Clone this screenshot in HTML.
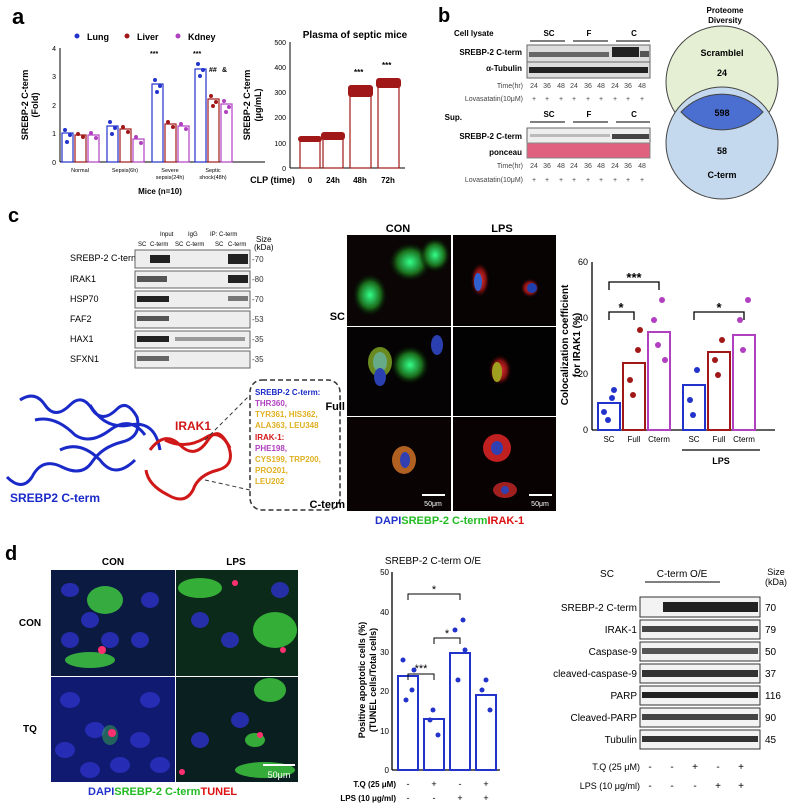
<!DOCTYPE html>
<html><head><meta charset="utf-8"><style>
body{margin:0;background:#fff}
svg{display:block;font-family:"Liberation Sans",sans-serif}
</style></head><body>
<svg width="800" height="803" viewBox="0 0 800 803" xmlns="http://www.w3.org/2000/svg">
<defs>
<radialGradient id="gcell"><stop offset="0" stop-color="#3f8"/><stop offset="0.6" stop-color="#1a6a1a"/><stop offset="1" stop-color="#000" stop-opacity="0"/></radialGradient>
<radialGradient id="rcell"><stop offset="0" stop-color="#e33"/><stop offset="0.6" stop-color="#801010"/><stop offset="1" stop-color="#000" stop-opacity="0"/></radialGradient>
</defs>
<!-- panel a -->
<text x="12" y="24" font-size="22" font-weight="bold">a</text>
<g font-size="9" font-weight="bold">
<circle cx="77" cy="36" r="2.5" fill="#2233cc"/><text x="87" y="40">Lung</text>
<circle cx="127" cy="36" r="2.5" fill="#a01818"/><text x="137" y="40">Liver</text>
<circle cx="178" cy="36" r="2.5" fill="#b040c0"/><text x="188" y="40">Kdney</text>
</g>
<line x1="60" y1="48" x2="60" y2="162" stroke="#000"/>
<line x1="60" y1="162" x2="265" y2="162" stroke="#000"/>
<g font-size="7" text-anchor="end"><text x="56" y="165">0</text><text x="56" y="136">1</text><text x="56" y="108">2</text><text x="56" y="79">3</text><text x="56" y="51">4</text></g>
<text x="28" y="105" font-size="9" font-weight="bold" transform="rotate(-90 28 105)" text-anchor="middle">SREBP-2 C-term</text>
<text x="38" y="105" font-size="9" font-weight="bold" transform="rotate(-90 38 105)" text-anchor="middle">(Fold)</text>
<g fill="none" stroke-width="1.2">
<rect x="62" y="133" width="11" height="29" stroke="#2233cc"/><rect x="75" y="135" width="11" height="27" stroke="#a01818"/><rect x="88" y="135" width="11" height="27" stroke="#b040c0"/>
<rect x="107" y="126" width="11" height="36" stroke="#2233cc"/><rect x="120" y="129" width="11" height="33" stroke="#a01818"/><rect x="133" y="139" width="11" height="23" stroke="#b040c0"/>
<rect x="152" y="84" width="11" height="78" stroke="#2233cc"/><rect x="165" y="124" width="11" height="38" stroke="#a01818"/><rect x="178" y="126" width="11" height="36" stroke="#b040c0"/>
<rect x="195" y="69" width="11" height="93" stroke="#2233cc"/><rect x="208" y="99" width="11" height="63" stroke="#a01818"/><rect x="221" y="104" width="11" height="58" stroke="#b040c0"/>
</g>
<g fill="#2233cc"><circle cx="65" cy="130" r="2"/><circle cx="70" cy="135" r="2"/><circle cx="67" cy="142" r="2"/><circle cx="110" cy="122" r="2"/><circle cx="115" cy="128" r="2"/><circle cx="112" cy="134" r="2"/><circle cx="155" cy="80" r="2"/><circle cx="160" cy="86" r="2"/><circle cx="157" cy="92" r="2"/><circle cx="198" cy="64" r="2"/><circle cx="203" cy="70" r="2"/><circle cx="200" cy="76" r="2"/></g>
<g fill="#a01818"><circle cx="78" cy="134" r="2"/><circle cx="83" cy="137" r="2"/><circle cx="123" cy="127" r="2"/><circle cx="128" cy="132" r="2"/><circle cx="168" cy="122" r="2"/><circle cx="173" cy="127" r="2"/><circle cx="211" cy="96" r="2"/><circle cx="216" cy="102" r="2"/><circle cx="213" cy="106" r="2"/></g>
<g fill="#b040c0"><circle cx="91" cy="133" r="2"/><circle cx="96" cy="138" r="2"/><circle cx="136" cy="137" r="2"/><circle cx="141" cy="143" r="2"/><circle cx="181" cy="124" r="2"/><circle cx="186" cy="129" r="2"/><circle cx="224" cy="101" r="2"/><circle cx="229" cy="107" r="2"/><circle cx="226" cy="112" r="2"/></g>
<g font-size="7" font-weight="bold"><text x="150" y="56">***</text><text x="193" y="56">***</text><text x="209" y="72">##</text><text x="222" y="72">&amp;</text></g>
<g font-size="5.5" text-anchor="middle"><text x="80" y="172">Normal</text><text x="125" y="172">Sepsis(6h)</text><text x="170" y="172">Severe</text><text x="170" y="179">sepsis(24h)</text><text x="213" y="172">Septic</text><text x="213" y="179">shock(48h)</text></g>
<text x="160" y="194" font-size="8" font-weight="bold" text-anchor="middle">Mice (n=10)</text>

<text x="355" y="38" font-size="10" font-weight="bold" text-anchor="middle">Plasma of septic mice</text>
<line x1="290" y1="42" x2="290" y2="168" stroke="#000"/>
<line x1="290" y1="168" x2="405" y2="168" stroke="#000"/>
<g font-size="7" text-anchor="end"><text x="286" y="171">0</text><text x="286" y="146">100</text><text x="286" y="120">200</text><text x="286" y="95">300</text><text x="286" y="70">400</text><text x="286" y="45">500</text></g>
<text x="250" y="105" font-size="9" font-weight="bold" transform="rotate(-90 250 105)" text-anchor="middle">SREBP-2 C-term</text>
<text x="261" y="105" font-size="9" font-weight="bold" transform="rotate(-90 261 105)" text-anchor="middle">(μg/mL)</text>
<g fill="none" stroke="#a01818" stroke-width="1.2">
<rect x="300" y="140" width="20" height="28"/><rect x="323" y="137" width="20" height="31"/><rect x="350" y="90" width="21" height="78"/><rect x="378" y="82" width="21" height="86"/></g>
<g fill="#a01818"><rect x="298" y="136" width="24" height="6" rx="3"/><rect x="321" y="132" width="24" height="8" rx="3"/><rect x="348" y="85" width="25" height="12" rx="3"/><rect x="376" y="78" width="25" height="10" rx="3"/></g>
<g font-size="8" font-weight="bold"><text x="354" y="75">***</text><text x="382" y="68">***</text></g>
<g font-size="8" font-weight="bold" text-anchor="middle"><text x="310" y="183">0</text><text x="333" y="183">24h</text><text x="360" y="183">48h</text><text x="388" y="183">72h</text></g>
<text x="295" y="183" font-size="9" font-weight="bold" text-anchor="end">CLP (time)</text>

<!-- panel b -->
<text x="438" y="22" font-size="20" font-weight="bold">b</text>
<g font-size="8" font-weight="bold" text-anchor="end">
<text x="522" y="55">SREBP-2 C-term</text><text x="522" y="71">α-Tubulin</text>
<text x="462" y="120">Sup.</text><text x="522" y="139">SREBP-2 C-term</text><text x="522" y="155">ponceau</text>
</g>
<text x="454" y="36" font-size="8" font-weight="bold">Cell lysate</text>
<g font-size="7" text-anchor="end" fill="#444">
<text x="523" y="88">Time(hr)</text><text x="523" y="101">Lovasatatin(10μM)</text>
<text x="523" y="168">Time(hr)</text><text x="523" y="182">Lovasatatin(10μM)</text>
</g>
<g font-size="7" text-anchor="middle" fill="#444">
<text x="534" y="88">24</text><text x="547" y="88">36</text><text x="561" y="88">48</text><text x="574" y="88">24</text><text x="588" y="88">36</text><text x="601" y="88">48</text><text x="615" y="88">24</text><text x="628" y="88">36</text><text x="642" y="88">48</text>
<text x="534" y="168">24</text><text x="547" y="168">36</text><text x="561" y="168">48</text><text x="574" y="168">24</text><text x="588" y="168">36</text><text x="601" y="168">48</text><text x="615" y="168">24</text><text x="628" y="168">36</text><text x="642" y="168">48</text>
<text x="534" y="101">+</text><text x="547" y="101">+</text><text x="561" y="101">+</text><text x="574" y="101">+</text><text x="588" y="101">+</text><text x="601" y="101">+</text><text x="615" y="101">+</text><text x="628" y="101">+</text><text x="642" y="101">+</text>
<text x="534" y="182">+</text><text x="547" y="182">+</text><text x="561" y="182">+</text><text x="574" y="182">+</text><text x="588" y="182">+</text><text x="601" y="182">+</text><text x="615" y="182">+</text><text x="628" y="182">+</text><text x="642" y="182">+</text>
</g>
<g font-size="8" font-weight="bold" text-anchor="middle"><text x="549" y="36">SC</text><text x="589" y="36">F</text><text x="634" y="36">C</text><text x="549" y="117">SC</text><text x="589" y="117">F</text><text x="634" y="117">C</text></g>
<g stroke="#333" stroke-width="1.3"><line x1="530" y1="41" x2="565" y2="41"/><line x1="573" y1="41" x2="608" y2="41"/><line x1="616" y1="41" x2="650" y2="41"/><line x1="530" y1="122" x2="565" y2="122"/><line x1="573" y1="122" x2="608" y2="122"/><line x1="616" y1="122" x2="650" y2="122"/></g>
<rect x="527" y="45" width="123" height="17" fill="#ddd" stroke="#666"/>
<rect x="529" y="52" width="80" height="5" fill="#666"/><rect x="612" y="47" width="27" height="10" fill="#222"/><rect x="640" y="51" width="9" height="6" fill="#555"/>
<rect x="527" y="62" width="123" height="16" fill="#ddd" stroke="#666"/><rect x="529" y="67" width="119" height="6" fill="#222"/>
<rect x="527" y="128" width="123" height="15" fill="#eee" stroke="#666"/><rect x="612" y="134" width="37" height="5" fill="#444"/><rect x="530" y="134" width="80" height="3" fill="#bbb"/>
<rect x="527" y="143" width="123" height="15" fill="#e06080" stroke="#888"/>
<text x="725" y="13" font-size="8" font-weight="bold" text-anchor="middle">Proteome</text>
<text x="725" y="23" font-size="8" font-weight="bold" text-anchor="middle">Diversity</text>
<circle cx="722" cy="82" r="56" fill="#e4efd4" stroke="#444"/>
<circle cx="722" cy="143" r="56" fill="#c5d9ee" stroke="#444"/>
<path d="M681 112 A56 56 0 0 1 763 112 A56 56 0 0 1 681 112Z" fill="#4a6fd0" stroke="#444"/>
<g font-size="9" font-weight="bold" text-anchor="middle"><text x="722" y="56">Scramblel</text><text x="722" y="76">24</text><text x="722" y="116">598</text><text x="722" y="154">58</text><text x="722" y="178">C-term</text></g>

<!-- panel c -->
<text x="8" y="222" font-size="20" font-weight="bold">c</text>
<g font-size="6"><text x="160" y="236">Input</text><text x="188" y="236">IgG</text><text x="210" y="236">IP: C-term</text>
<text x="138" y="246">SC</text><text x="150" y="246">C-term</text><text x="175" y="246">SC</text><text x="186" y="246">C-term</text><text x="215" y="246">SC</text><text x="228" y="246">C-term</text></g>
<text x="256" y="242" font-size="8">Size</text><text x="254" y="250" font-size="8">(kDa)</text>
<g font-size="9"><text x="70" y="261">SREBP-2 C-term</text><text x="70" y="282">IRAK1</text><text x="70" y="302">HSP70</text><text x="70" y="322">FAF2</text><text x="70" y="342">HAX1</text><text x="70" y="362">SFXN1</text></g>
<g font-size="8" fill="#333"><text x="252" y="262">-70</text><text x="252" y="282">-80</text><text x="252" y="302">-70</text><text x="252" y="322">-53</text><text x="252" y="342">-35</text><text x="252" y="362">-35</text></g>
<g stroke="#666" fill="#eee"><rect x="135" y="250" width="115" height="18"/><rect x="135" y="271" width="115" height="17"/><rect x="135" y="291" width="115" height="17"/><rect x="135" y="311" width="115" height="17"/><rect x="135" y="331" width="115" height="17"/><rect x="135" y="351" width="115" height="17"/></g>
<g fill="#222"><rect x="150" y="255" width="20" height="8"/><rect x="228" y="254" width="20" height="10"/>
<rect x="137" y="276" width="30" height="6" fill="#555"/><rect x="228" y="275" width="20" height="8"/>
<rect x="137" y="296" width="32" height="6"/><rect x="228" y="296" width="20" height="5" fill="#777"/>
<rect x="137" y="316" width="32" height="5" fill="#555"/><rect x="137" y="336" width="32" height="6"/><rect x="175" y="337" width="70" height="4" fill="#999"/><rect x="137" y="356" width="32" height="5" fill="#666"/></g>
<!-- structure -->
<g fill="none" stroke="#1a2ac8" stroke-width="3">
<path d="M20 400 q15 -10 25 5 q10 15 25 0 q12 -12 22 4 q10 15 25 0 q10 -10 20 8 q5 20 -15 25 q-20 5 -30 20 q-10 15 -30 5 q-20 -10 -30 10 q-10 15 -25 0"/>
<path d="M35 420 q20 -5 40 15 q15 10 35 -5 q20 -15 35 5"/>
<path d="M60 450 q20 -10 40 10 q15 20 35 0"/>
<path d="M90 405 q15 25 40 20 q25 -5 30 25"/>
</g>
<g fill="none" stroke="#d01818" stroke-width="3">
<path d="M150 450 q15 -20 30 -5 q15 15 28 -5 q10 -15 20 5 q8 20 -10 25 q-20 5 -25 20 q-8 15 -25 5 q-20 -10 -22 -25"/>
<path d="M165 440 q20 10 40 -2 q15 -10 25 10"/>
</g>
<text x="175" y="430" font-size="12" font-weight="bold" fill="#d01818">IRAK1</text>
<text x="10" y="502" font-size="12" font-weight="bold" fill="#1a2ac8">SREBP2 C-term</text>
<path d="M205 440 L250 395 M205 480 L250 490" stroke="#333" stroke-dasharray="4 3"/>
<rect x="250" y="380" width="90" height="130" rx="12" fill="#fff" stroke="#333" stroke-dasharray="5 3" stroke-width="1.5"/>
<g font-size="8" font-weight="bold"><text x="255" y="395" fill="#1a2ac8">SREBP-2 C-term:</text><text x="255" y="406" fill="#b040c0">THR360,</text><text x="255" y="417" fill="#e0b020">TYR361, HIS362,</text><text x="255" y="428" fill="#e0b020">ALA363, LEU348</text><text x="255" y="440" fill="#d01818">IRAK-1:</text><text x="255" y="451" fill="#b040c0">PHE198,</text><text x="255" y="462" fill="#e0b020">CYS199, TRP200,</text><text x="255" y="473" fill="#e0b020">PRO201,</text><text x="255" y="484" fill="#e0b020">LEU202</text></g>
<!-- microscopy c -->
<g font-size="11" font-weight="bold" text-anchor="middle"><text x="398" y="232">CON</text><text x="502" y="232">LPS</text></g>
<g font-size="11" font-weight="bold" text-anchor="end"><text x="345" y="320">SC</text><text x="345" y="410">Full</text><text x="345" y="508">C-term</text></g>
<rect x="347" y="235" width="104" height="91" fill="#0b0505"/><rect x="453" y="235" width="103" height="91" fill="#070303"/>
<rect x="347" y="327" width="104" height="89" fill="#050303"/><rect x="453" y="327" width="103" height="89" fill="#030202"/>
<rect x="347" y="417" width="104" height="94" fill="#0a0303"/><rect x="453" y="417" width="103" height="94" fill="#080202"/>
<ellipse cx="410" cy="262" rx="22" ry="20" fill="url(#gcell)"/><ellipse cx="435" cy="255" rx="16" ry="18" fill="url(#gcell)"/><ellipse cx="370" cy="295" rx="18" ry="22" fill="url(#gcell)"/>
<ellipse cx="480" cy="280" rx="10" ry="18" fill="url(#rcell)"/><ellipse cx="478" cy="282" rx="4" ry="9" fill="#3060d0"/><ellipse cx="530" cy="288" rx="10" ry="10" fill="url(#rcell)"/><circle cx="532" cy="288" r="5" fill="#2040b0"/>
<ellipse cx="410" cy="365" rx="20" ry="20" fill="url(#gcell)"/><ellipse cx="380" cy="362" rx="12" ry="15" fill="#6a8a20"/><ellipse cx="380" cy="362" rx="7" ry="10" fill="#6a8"/><ellipse cx="380" cy="377" rx="6" ry="9" fill="#2a40b0"/><ellipse cx="437" cy="345" rx="6" ry="10" fill="#2a40b0"/>
<ellipse cx="500" cy="370" rx="12" ry="16" fill="url(#rcell)"/><ellipse cx="497" cy="372" rx="5" ry="10" fill="#a0a020"/>
<ellipse cx="404" cy="460" rx="12" ry="14" fill="#b06020"/><ellipse cx="405" cy="460" rx="5" ry="8" fill="#3040b0"/>
<ellipse cx="497" cy="448" rx="14" ry="14" fill="#c02020"/><ellipse cx="497" cy="448" rx="6" ry="7" fill="#3040b0"/><ellipse cx="505" cy="490" rx="12" ry="8" fill="#a02020"/><circle cx="505" cy="490" r="4" fill="#3040b0"/>
<line x1="422" y1="495" x2="445" y2="495" stroke="#fff" stroke-width="2"/><text x="433" y="506" font-size="7" fill="#fff" text-anchor="middle">50μm</text>
<line x1="529" y1="495" x2="552" y2="495" stroke="#fff" stroke-width="2"/><text x="540" y="506" font-size="7" fill="#fff" text-anchor="middle">50μm</text>
<text x="375" y="524" font-size="11" font-weight="bold"><tspan fill="#2233cc">DAPI</tspan><tspan fill="#22bb22">SREBP-2 C-term</tspan><tspan fill="#dd1111">IRAK-1</tspan></text>
<!-- c chart -->
<text x="568" y="345" font-size="10" font-weight="bold" transform="rotate(-90 568 345)" text-anchor="middle">Colocalization coefficient</text>
<text x="580" y="345" font-size="10" font-weight="bold" transform="rotate(-90 580 345)" text-anchor="middle">for IRAK1 (%)</text>
<line x1="592" y1="262" x2="592" y2="430" stroke="#000" stroke-width="1.3"/><line x1="592" y1="430" x2="775" y2="430" stroke="#000" stroke-width="1.3"/>
<g font-size="9" text-anchor="end"><text x="588" y="433">0</text><text x="588" y="377">20</text><text x="588" y="321">40</text><text x="588" y="265">60</text></g>
<g fill="none" stroke-width="2">
<rect x="598" y="403" width="22" height="27" stroke="#2233cc"/><rect x="623" y="363" width="22" height="67" stroke="#a01818"/><rect x="648" y="332" width="22" height="98" stroke="#b040c0"/>
<rect x="683" y="385" width="22" height="45" stroke="#2233cc"/><rect x="708" y="352" width="22" height="78" stroke="#a01818"/><rect x="733" y="335" width="22" height="95" stroke="#b040c0"/>
</g>
<g fill="#2233cc"><circle cx="604" cy="412" r="3"/><circle cx="612" cy="398" r="3"/><circle cx="608" cy="420" r="3"/><circle cx="614" cy="390" r="3"/><circle cx="690" cy="400" r="3"/><circle cx="697" cy="370" r="3"/><circle cx="693" cy="415" r="3"/></g>
<g fill="#a01818"><circle cx="630" cy="380" r="3"/><circle cx="638" cy="350" r="3"/><circle cx="633" cy="395" r="3"/><circle cx="640" cy="330" r="3"/><circle cx="715" cy="360" r="3"/><circle cx="722" cy="340" r="3"/><circle cx="718" cy="375" r="3"/></g>
<g fill="#b040c0"><circle cx="654" cy="320" r="3"/><circle cx="662" cy="300" r="3"/><circle cx="658" cy="345" r="3"/><circle cx="665" cy="360" r="3"/><circle cx="740" cy="320" r="3"/><circle cx="748" cy="300" r="3"/><circle cx="743" cy="350" r="3"/></g>
<path d="M609 320 V312 H634 V320 M609 290 V282 H659 V290 M694 320 V312 H744 V320" fill="none" stroke="#000" stroke-width="1.3"/>
<g font-size="13" font-weight="bold" text-anchor="middle"><text x="621" y="312">*</text><text x="634" y="282">***</text><text x="719" y="312">*</text></g>
<g font-size="8" text-anchor="middle"><text x="609" y="442">SC</text><text x="634" y="442">Full</text><text x="659" y="442">Cterm</text><text x="694" y="442">SC</text><text x="719" y="442">Full</text><text x="744" y="442">Cterm</text></g>
<line x1="682" y1="450" x2="760" y2="450" stroke="#000" stroke-width="1.3"/><text x="721" y="464" font-size="9" font-weight="bold" text-anchor="middle">LPS</text>

<!-- panel d -->
<text x="5" y="560" font-size="20" font-weight="bold">d</text>
<g font-size="10" font-weight="bold" text-anchor="middle"><text x="113" y="565">CON</text><text x="236" y="565">LPS</text><text x="30" y="626">CON</text><text x="30" y="732">TQ</text></g>
<rect x="51" y="570" width="124" height="106" fill="#0b1a40"/><rect x="176" y="570" width="122" height="106" fill="#0c2a1a"/>
<rect x="51" y="677" width="124" height="105" fill="#101a70"/><rect x="176" y="677" width="122" height="105" fill="#0a2020"/>
<g fill="#2a30c0" opacity="0.85"><ellipse cx="70" cy="590" rx="9" ry="7"/><ellipse cx="90" cy="620" rx="9" ry="8"/><ellipse cx="70" cy="640" rx="9" ry="8"/><ellipse cx="150" cy="600" rx="9" ry="8"/><ellipse cx="140" cy="640" rx="9" ry="8"/><ellipse cx="110" cy="640" rx="9" ry="8"/>
<ellipse cx="70" cy="700" rx="10" ry="8"/><ellipse cx="95" cy="730" rx="10" ry="8"/><ellipse cx="65" cy="750" rx="10" ry="8"/><ellipse cx="150" cy="700" rx="10" ry="8"/><ellipse cx="140" cy="740" rx="10" ry="8"/><ellipse cx="120" cy="765" rx="10" ry="8"/><ellipse cx="160" cy="765" rx="10" ry="8"/><ellipse cx="90" cy="770" rx="10" ry="8"/>
<ellipse cx="200" cy="620" rx="9" ry="8"/><ellipse cx="230" cy="640" rx="9" ry="8"/><ellipse cx="280" cy="590" rx="9" ry="8"/><ellipse cx="200" cy="740" rx="9" ry="8"/><ellipse cx="240" cy="720" rx="9" ry="8"/></g>
<g fill="#40d040" opacity="0.8"><ellipse cx="105" cy="600" rx="18" ry="14"/><ellipse cx="90" cy="660" rx="25" ry="8"/><ellipse cx="200" cy="588" rx="22" ry="10"/><ellipse cx="275" cy="630" rx="22" ry="18"/><ellipse cx="270" cy="690" rx="16" ry="12"/><ellipse cx="265" cy="770" rx="30" ry="8"/><ellipse cx="255" cy="740" rx="10" ry="7"/><ellipse cx="110" cy="735" rx="8" ry="10" opacity="0.5"/></g>
<g fill="#ff3070"><circle cx="102" cy="650" r="4"/><circle cx="235" cy="583" r="3"/><circle cx="283" cy="650" r="3"/><circle cx="112" cy="733" r="4"/><circle cx="260" cy="735" r="3"/><circle cx="182" cy="772" r="3"/></g>
<line x1="263" y1="765" x2="295" y2="765" stroke="#fff" stroke-width="2"/><text x="279" y="778" font-size="9" fill="#fff" text-anchor="middle">50μm</text>
<text x="88" y="795" font-size="11" font-weight="bold"><tspan fill="#2233cc">DAPI</tspan><tspan fill="#22bb22">SREBP-2 C-term</tspan><tspan fill="#dd1111">TUNEL</tspan></text>
<!-- d chart -->
<text x="433" y="564" font-size="10" text-anchor="middle">SREBP-2 C-term O/E</text>
<text x="365" y="680" font-size="9" font-weight="bold" transform="rotate(-90 365 680)" text-anchor="middle">Positive apoptotic cells (%)</text>
<text x="376" y="680" font-size="9" font-weight="bold" transform="rotate(-90 376 680)" text-anchor="middle">(TUNEL cells/Total cells)</text>
<line x1="392" y1="572" x2="392" y2="770" stroke="#000" stroke-width="1.3"/><line x1="392" y1="770" x2="500" y2="770" stroke="#000" stroke-width="1.3"/>
<g font-size="8" text-anchor="end"><text x="389" y="773">0</text><text x="389" y="734">10</text><text x="389" y="694">20</text><text x="389" y="655">30</text><text x="389" y="615">40</text><text x="389" y="575">50</text></g>
<g fill="none" stroke="#2233cc" stroke-width="2"><rect x="398" y="676" width="20" height="94"/><rect x="424" y="719" width="20" height="51"/><rect x="450" y="653" width="20" height="117"/><rect x="476" y="695" width="20" height="75"/></g>
<g fill="#2233cc"><circle cx="403" cy="660" r="2.5"/><circle cx="412" cy="690" r="2.5"/><circle cx="406" cy="700" r="2.5"/><circle cx="414" cy="670" r="2.5"/><circle cx="430" cy="720" r="2.5"/><circle cx="438" cy="735" r="2.5"/><circle cx="433" cy="710" r="2.5"/><circle cx="455" cy="630" r="2.5"/><circle cx="465" cy="650" r="2.5"/><circle cx="458" cy="680" r="2.5"/><circle cx="463" cy="620" r="2.5"/><circle cx="482" cy="690" r="2.5"/><circle cx="490" cy="710" r="2.5"/><circle cx="486" cy="680" r="2.5"/></g>
<path d="M408 600 V594 H460 V600 M408 680 V674 H434 V680 M434 644 V638 H460 V644" fill="none" stroke="#000"/>
<g font-size="11" text-anchor="middle"><text x="434" y="593">*</text><text x="421" y="672">***</text><text x="447" y="637">*</text></g>
<g font-size="9" text-anchor="middle"><text x="408" y="787">-</text><text x="434" y="787">+</text><text x="460" y="787">-</text><text x="486" y="787">+</text><text x="408" y="801">-</text><text x="434" y="801">-</text><text x="460" y="801">+</text><text x="486" y="801">+</text></g>
<g font-size="8" font-weight="bold" text-anchor="end"><text x="396" y="787">T.Q (25 μM)</text><text x="396" y="801">LPS (10 μg/ml)</text></g>
<!-- d blots -->
<g font-size="10" text-anchor="middle"><text x="607" y="577">SC</text><text x="682" y="577">C-term O/E</text></g>
<line x1="645" y1="582" x2="720" y2="582" stroke="#000"/>
<text x="776" y="575" font-size="9" text-anchor="middle">Size</text><text x="776" y="585" font-size="9" text-anchor="middle">(kDa)</text>
<g font-size="10" text-anchor="end"><text x="637" y="611">SREBP-2 C-term</text><text x="637" y="633">IRAK-1</text><text x="637" y="655">Caspase-9</text><text x="637" y="677">cleaved-caspase-9</text><text x="637" y="699">PARP</text><text x="637" y="721">Cleaved-PARP</text><text x="637" y="743">Tubulin</text></g>
<g font-size="10"><text x="765" y="611">70</text><text x="765" y="633">79</text><text x="765" y="655">50</text><text x="765" y="677">37</text><text x="765" y="699">116</text><text x="765" y="721">90</text><text x="765" y="743">45</text></g>
<g stroke="#333" fill="#f3f3f3"><rect x="640" y="597" width="120" height="20"/><rect x="640" y="620" width="120" height="19"/><rect x="640" y="642" width="120" height="19"/><rect x="640" y="664" width="120" height="19"/><rect x="640" y="686" width="120" height="19"/><rect x="640" y="708" width="120" height="19"/><rect x="640" y="730" width="120" height="19"/></g>
<g fill="#222"><rect x="663" y="602" width="95" height="10"/><rect x="642" y="626" width="116" height="6" fill="#444"/><rect x="642" y="648" width="116" height="6" fill="#555"/><rect x="642" y="670" width="116" height="7" fill="#333"/><rect x="642" y="692" width="116" height="6"/><rect x="642" y="714" width="116" height="6" fill="#444"/><rect x="642" y="736" width="116" height="6" fill="#333"/></g>
<g font-size="10" text-anchor="middle"><text x="650" y="770">-</text><text x="672" y="770">-</text><text x="695" y="770">+</text><text x="718" y="770">-</text><text x="741" y="770">+</text><text x="650" y="789">-</text><text x="672" y="789">-</text><text x="695" y="789">-</text><text x="718" y="789">+</text><text x="741" y="789">+</text></g>
<g font-size="9" text-anchor="end"><text x="640" y="770">T.Q (25 μM)</text><text x="640" y="789">LPS (10 μg/ml)</text></g>
</svg>
</body></html>
